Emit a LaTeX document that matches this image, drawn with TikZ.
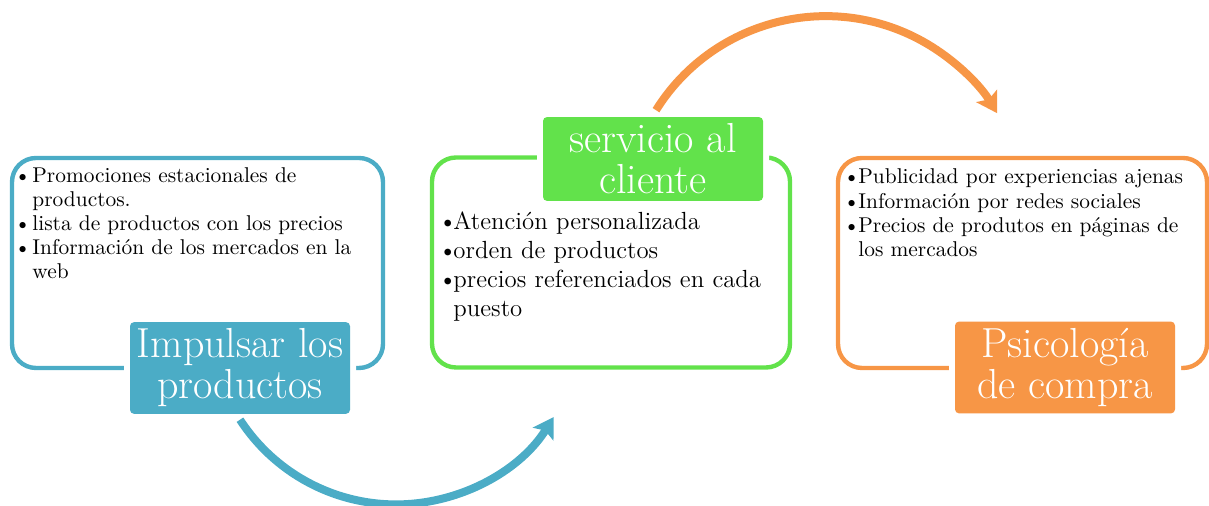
\documentclass[tikz,border=0pt]{standalone}
\usepackage{tikz}
\usetikzlibrary{positioning, arrows.meta, calc}
\definecolor{impblue}{HTML}{4BACC6}
\definecolor{servgreen}{HTML}{62E24B}
\definecolor{psiorange}{HTML}{F79646}
\newlength{\bulw}
\newcommand{\bul}{\par\hangindent=\bulw\hangafter=1\noindent\makebox[\bulw][l]{\textbullet}}

\begin{document}
\begin{tikzpicture}[x=0.5pt, y=0.5pt,
    frame/.style={draw=#1, line width=2.2pt, rounded corners=12pt, minimum height=105pt},
    tag/.style={fill=#1, text=white, rounded corners=2pt, minimum width=110pt, minimum height=41.5pt,
      align=center, font=\fontsize{21}{20.5}\selectfont, preaction={draw=white, line width=6pt}},
    items/.style={anchor=north west, inner sep=0pt, text width=#1, align=left},
    bend/.style={draw=#1, line width=4pt, -{Stealth[length=10pt, width=12pt, inset=2pt]}}]
  \useasboundingbox (0,0) rectangle (1209,506);

  % Frames
  \node[frame=impblue, minimum width=185.5pt] (impulsarbox) at (197.5,243) {};
  \node[frame=servgreen, minimum width=179pt] (serviciobox) at (611,243.5) {};
  \node[frame=psiorange, minimum width=184.5pt] (psicobox) at (1022.5,243) {};

  % Titles
  \node[tag=impblue] (impulsartag) at (240,138) {Impulsar los\\productos};
  \node[tag=servgreen] (serviciotag) at (653,347) {servicio al\\cliente};
  \node[tag=psiorange] (psicotag) at (1065,138.5) {Psicología\\de compra};

  % Lists
  \node[items=182pt, font=\fontsize{10.7}{12}\selectfont] (impulsartext) at (14,348)
    {\setlength{\bulw}{9pt}%
     \bul Promociones estacionales de\newline productos. \bul lista de productos con los precios
     \bul Información de los mercados en la\newline web\par};
  \node[items=174pt, font=\fontsize{12.4}{14.5}\selectfont] (serviciotext) at (438,306)
    {\setlength{\bulw}{7.5pt}%
     \bul Atención personalizada \bul orden de productos
     \bul precios referenciados en cada\newline puesto\par};
  \node[items=180pt, font=\fontsize{10.7}{12.2}\selectfont] (psicotext) at (843,347)
    {\setlength{\bulw}{7.5pt}%
     \bul Publicidad por experiencias ajenas \bul Información por redes sociales
     \bul Precios de produtos en páginas de\newline los mercados\par};

  % Arrows
  \coordinate (bluestart) at ([yshift=-2.75pt]impulsartag.south);
  \coordinate (orangestart) at ([xshift=1.5pt, yshift=3.25pt]serviciotag.north);
  \draw[bend=impblue] (bluestart) arc[start angle=213, end angle=328, radius=186];
  \draw[bend=psiorange] (orangestart) arc[start angle=148, end angle=31, radius=200];
\end{tikzpicture}
\end{document}
